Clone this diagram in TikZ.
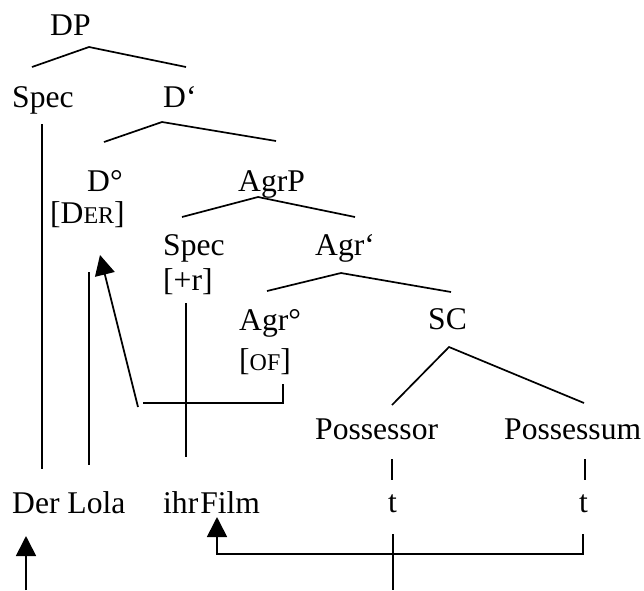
\documentclass[tikz,border=0pt]{standalone}
\usepackage{fontspec}
\setmainfont{Liberation Serif}
\usetikzlibrary{arrows.meta}
\newcommand{\smc}[1]{{\fontsize{24}{28}\selectfont #1}}
\begin{document}
\begin{tikzpicture}[x=1pt,y=-1pt,
  lbl/.style={anchor=base west,inner sep=0pt,font=\fontsize{31.6}{38}\selectfont},
  edge/.style={line width=1.7pt},
  arr/.style={line width=1.7pt,-{Triangle[length=20pt,width=20pt]}}]
\useasboundingbox (0,0) rectangle (644,590);
% labels
\node[lbl] (dp) at (50,35) {DP};
\node[lbl] (spec1) at (12,107) {Spec};
\node[lbl] (dbar) at (163,107) {D‘};
\node[lbl] (dhead) at (87,191) {D°};
\node[lbl] (der) at (50,223) {[D\smc{ER}]};
\node[lbl] (agrp) at (238,191) {AgrP};
\node[lbl] (spec2) at (163,255) {Spec};
\node[lbl] (plusr) at (163,290) {[+r]};
\node[lbl] (agrbar) at (315,255) {Agr‘};
\node[lbl] (agrhead) at (239,330) {Agr°};
\node[lbl] (of) at (239,370) {[\smc{OF}]};
\node[lbl] (sc) at (428,329) {SC};
\node[lbl] (possessor) at (315,439) {Possessor};
\node[lbl] (possessum) at (504,439) {Possessum};
\node[lbl] (derlola) at (12,513) {Der Lola};
\node[lbl] (ihrfilm) at (163,513) {ihr\kern2pt Film};
\node[lbl] (t1) at (388,512) {t};
\node[lbl] (t2) at (579,512) {t};
% tree coordinates
\coordinate (dpA) at (89,47);   \coordinate (dpL) at (32,67);   \coordinate (dpR) at (186,67);
\coordinate (dbA) at (162,122); \coordinate (dbL) at (104,142); \coordinate (dbR) at (276,141);
\coordinate (apA) at (258,197); \coordinate (apL) at (182,217); \coordinate (apR) at (355,217);
\coordinate (abA) at (341,273); \coordinate (abL) at (267,291); \coordinate (abR) at (451,292);
\coordinate (scA) at (449,347); \coordinate (scL) at (392,405); \coordinate (scR) at (584,403);
\draw[edge] (dpL) -- (dpA) -- (dpR);
\draw[edge] (dbL) -- (dbA) -- (dbR);
\draw[edge] (apL) -- (apA) -- (apR);
\draw[edge] (abL) -- (abA) -- (abR);
\draw[edge] (scL) -- (scA) -- (scR);
% vertical association lines
\coordinate (s1T) at (42,124);  \coordinate (s1B) at (42,469);
\coordinate (loT) at (89,272);  \coordinate (loB) at (89,465);
\coordinate (prT) at (186,303); \coordinate (prB) at (186,457);
\coordinate (k1T) at (392,459); \coordinate (k1B) at (392,480);
\coordinate (k2T) at (585,459); \coordinate (k2B) at (585,480);
\draw[edge] (s1T) -- (s1B);
\draw[edge] (loT) -- (loB);
\draw[edge] (prT) -- (prB);
\draw[edge] (k1T) -- (k1B);
\draw[edge] (k2T) -- (k2B);
% head movement Agr -> D
\coordinate (ofB) at (283,384); \coordinate (ofC) at (283,403); \coordinate (mvE) at (143,403);
\coordinate (mvS) at (138,407); \coordinate (mvT) at (100,255);
\draw[edge] (ofB) -- (ofC) -- (mvE);
\draw[arr] (mvS) -- (mvT);
% bottom arrows
\coordinate (dlS) at (26,590);  \coordinate (dlT) at (26,536);
\draw[arr] (dlS) -- (dlT);
\coordinate (t1T) at (393,534); \coordinate (t1B) at (393,590);
\draw[edge] (t1T) -- (t1B);
\coordinate (t2T) at (583,534); \coordinate (brC) at (583,554); \coordinate (brL) at (217,554);
\coordinate (fiT) at (217,517);
\draw[arr] (t2T) -- (brC) -- (brL) -- (fiT);
\end{tikzpicture}
\end{document}
